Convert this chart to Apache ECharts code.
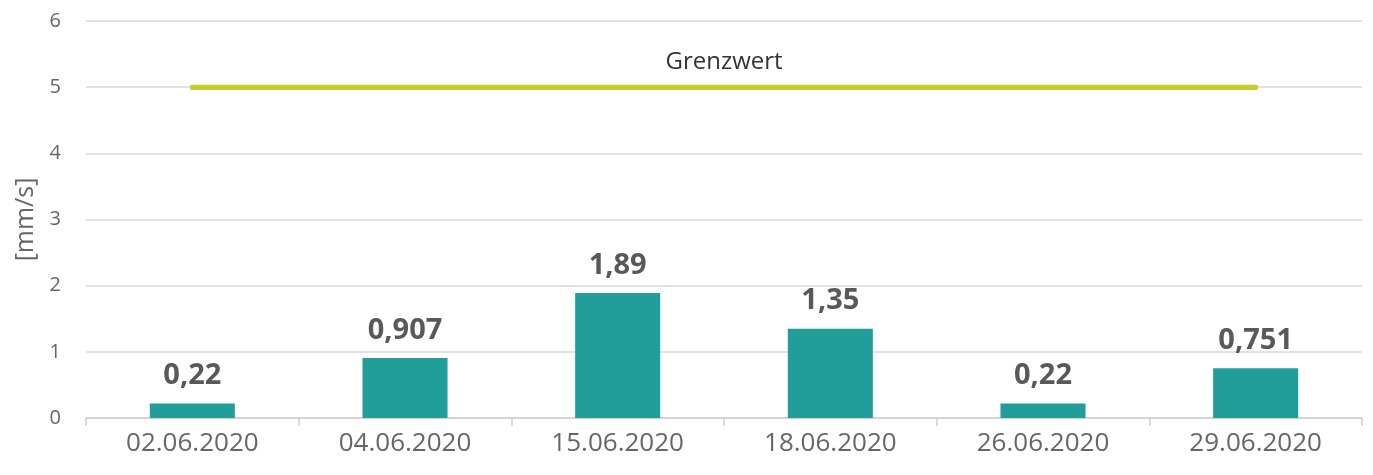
<!DOCTYPE html>
<html>
<head>
<meta charset="utf-8">
<script src="https://cdn.jsdelivr.net/npm/echarts@6/dist/echarts.min.js"></script>
<style>
html,body{margin:0;padding:0;background:#fff;}
#main{width:1373px;height:475px;}
</style>
</head>
<body>
<div id="main"></div>
<script>
var categories = ['02.06.2020', '04.06.2020', '15.06.2020', '18.06.2020', '26.06.2020', '29.06.2020'];
var werte = [0.22, 0.907, 1.89, 1.35, 0.22, 0.751];
var grenzwert = [5, 5, 5, 5, 5, 5];
var yTicks = [0, 1, 2, 3, 4, 5, 6];

var font = 'Open Sans';
var chart = echarts.init(document.getElementById('main'));

var option = {
    animation: false,
    grid: { left: 86, right: 11, top: 21, bottom: 57, containLabel: false, outerBoundsMode: 'none' },
    xAxis: {
        type: 'category',
        data: categories,
        axisLine: { lineStyle: { color: '#d0d0d0', width: 1.5 } },
        axisTick: { show: true, length: 8, lineStyle: { color: '#d0d0d0', width: 1.5 } },
        axisLabel: { color: '#666', fontFamily: font, fontSize: 26, margin: 13 }
    },
    yAxis: {
        type: 'value',
        min: yTicks[0],
        max: yTicks[yTicks.length - 1],
        interval: 1,
        name: '[mm/s]',
        nameLocation: 'middle',
        nameGap: 48,
        nameTextStyle: { color: '#666', fontFamily: font, fontSize: 25 },
        axisLine: { show: false },
        axisTick: { show: false },
        axisLabel: { color: '#666', fontFamily: font, fontSize: 20, margin: 25 },
        splitLine: { lineStyle: { color: '#d9d9d9', width: 1.5 } }
    },
    series: [
        {
            type: 'bar',
            data: werte,
            barWidth: '40%',
            itemStyle: { color: '#229e9a' },
            label: {
                show: true,
                position: 'top',
                distance: 13,
                color: '#595959',
                fontFamily: font,
                fontWeight: 'bold',
                fontSize: 29,
                formatter: function (p) { return String(p.value).replace('.', ','); }
            }
        },
        {
            type: 'line',
            data: grenzwert,
            symbol: 'none',
            lineStyle: { color: '#c8cc2c', width: 5, cap: 'round' },
            markLine: {
                silent: true,
                symbol: 'none',
                lineStyle: { color: '#c8cc2c', width: 5, type: 'solid', cap: 'round' },
                label: {
                    show: true,
                    position: 'insideMiddleTop',
                    formatter: 'Grenzwert',
                    color: '#333',
                    fontFamily: font,
                    fontSize: 24,
                    distance: 13
                },
                data: [[{ coord: [0, 5] }, { coord: [5, 5] }]]
            }
        }
    ]
};
chart.setOption(option);
</script>
</body>
</html>
